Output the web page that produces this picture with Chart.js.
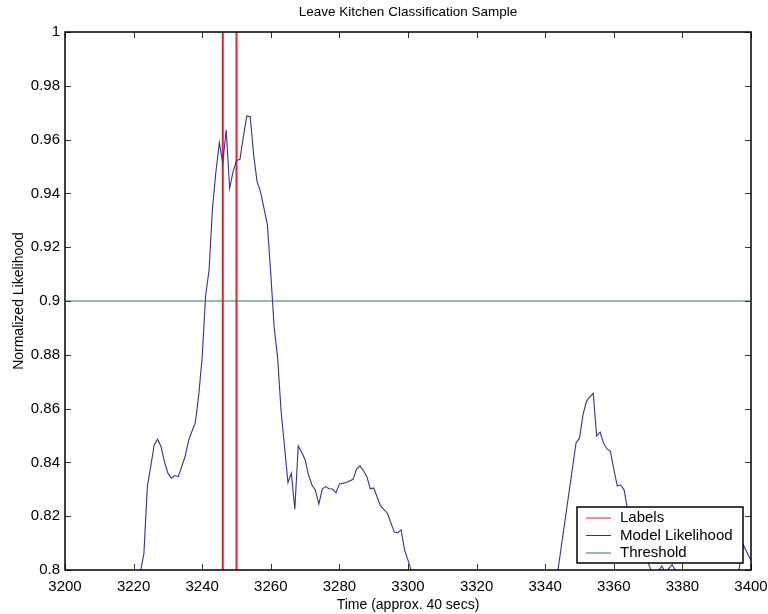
<!DOCTYPE html>
<html>
<head>
<meta charset="utf-8">
<title>Leave Kitchen Classification Sample</title>
<script src="https://cdn.jsdelivr.net/npm/chart.js@4.4.1/dist/chart.umd.min.js"></script>
<style>
    body { margin: 0; background: #fff; }
    #wrap { width: 768px; height: 614px; }
</style>
</head>
<body>
<div id="wrap"><canvas id="myChartLikelihood" width="768" height="614"></canvas></div>
<script>
// values
const timeValues = [
    3216, 3217, 3218, 3220, 3222, 3223, 3224, 3225, 3226, 3227,
    3228, 3229, 3230, 3231, 3232, 3233, 3234, 3235, 3236, 3237,
    3238, 3239, 3240, 3241, 3242, 3243, 3244, 3245, 3246, 3247,
    3248, 3249, 3250, 3251, 3252, 3253, 3254, 3255, 3256, 3257,
    3258, 3259, 3260, 3261, 3262, 3263, 3264, 3265, 3266, 3267,
    3268, 3269, 3270, 3271, 3272, 3273, 3274, 3275, 3276, 3277,
    3278, 3279, 3280, 3282, 3284, 3285, 3286, 3287, 3288, 3289,
    3290, 3292, 3294, 3296, 3297, 3298, 3299, 3300, 3301, 3302,
    3310, 3330, 3343, 3349, 3350, 3351, 3352, 3353, 3354, 3355,
    3356, 3357, 3358, 3359, 3360, 3361, 3362, 3363, 3364, 3365,
    3367, 3369, 3371, 3372, 3374, 3375, 3377, 3378, 3380, 3382,
    3388, 3392, 3396, 3397.8, 3399.7, 3400
];
const likelihoodValues = [
    0.7985, 0.7999, 0.7975, 0.7972, 0.7994, 0.806, 0.831, 0.8385, 0.8465, 0.8486,
    0.8458, 0.8403, 0.836, 0.8341, 0.8351, 0.8347, 0.8384, 0.8421, 0.848, 0.8515,
    0.8548, 0.8651, 0.8793, 0.902, 0.9115, 0.9345, 0.9481, 0.9589, 0.9512, 0.9636,
    0.9419, 0.9481, 0.9522, 0.9527, 0.961, 0.9688, 0.9685, 0.9543, 0.9444, 0.9406,
    0.9345, 0.9283, 0.910, 0.890, 0.8787, 0.859, 0.8458, 0.8325, 0.836, 0.8226,
    0.8461, 0.8438, 0.841, 0.8353, 0.8316, 0.8297, 0.8245, 0.8301, 0.831, 0.8302,
    0.8301, 0.8287, 0.832, 0.8325, 0.8337, 0.8375, 0.8387, 0.8369, 0.8347, 0.8302,
    0.8305, 0.8238, 0.8211, 0.8141, 0.8139, 0.8149, 0.8074, 0.8037, 0.7996, 0.795,
    0.785, 0.785, 0.7935, 0.8473, 0.849, 0.8576, 0.8626, 0.8644, 0.8657, 0.8498,
    0.8513, 0.8472, 0.845, 0.8442, 0.8375, 0.8313, 0.8316, 0.8298, 0.8225, 0.817,
    0.811, 0.806, 0.7995, 0.798, 0.8015, 0.799, 0.802, 0.7998, 0.799, 0.795,
    0.79, 0.794, 0.797, 0.8092, 0.8043, 0.8038
];
const labelTimes = [3246, 3250];
const thresholdValue = 0.9;

const xTickValues = [3200, 3220, 3240, 3260, 3280, 3300, 3320, 3340, 3360, 3380, 3400];
const yTickValues = [0.8, 0.82, 0.84, 0.86, 0.88, 0.9, 0.92, 0.94, 0.96, 0.98, 1];
const yTickLabels = ['0.8', '0.82', '0.84', '0.86', '0.88', '0.9', '0.92', '0.94', '0.96', '0.98', '1'];

const chartTitle = 'Leave Kitchen Classification Sample';
const xTitle = 'Time (approx. 40 secs)';
const yTitle = 'Normalized Likelihood';

var fontFamily = "'Liberation Sans', Arial, Helvetica, sans-serif";

var xMin = xTickValues[0], xMax = xTickValues[xTickValues.length - 1];
var yMin = yTickValues[0], yMax = yTickValues[yTickValues.length - 1];

var modelPoints = timeValues.map(function (t, i) {
    return { x: t, y: likelihoodValues[i] };
});
var labelPoints = [];
labelTimes.forEach(function (t) {
    labelPoints.push({ x: t, y: yMin }, { x: t, y: yMax }, { x: t, y: null });
});
var thresholdPoints = [{ x: xMin, y: thresholdValue }, { x: xMax, y: thresholdValue }];

// box round the axes, inward ticks, and the title over the plot
const axesBox = {
    id: 'axesBox',
    afterDatasetsDraw: function (chart) {
        var ctx = chart.ctx;
        var area = chart.chartArea;
        var sx = chart.scales.x, sy = chart.scales.y;
        ctx.save();
        ctx.strokeStyle = '#333';
        ctx.lineWidth = 1;
        ctx.beginPath();
        sx.ticks.forEach(function (t) {
            var px = Math.round(sx.getPixelForValue(t.value)) + 0.5;
            ctx.moveTo(px, area.bottom); ctx.lineTo(px, area.bottom - 6);
            ctx.moveTo(px, area.top); ctx.lineTo(px, area.top + 6);
        });
        sy.ticks.forEach(function (t) {
            var py = Math.round(sy.getPixelForValue(t.value)) + 0.5;
            ctx.moveTo(area.left, py); ctx.lineTo(area.left + 6, py);
            ctx.moveTo(area.right, py); ctx.lineTo(area.right - 6, py);
        });
        ctx.stroke();
        ctx.strokeStyle = '#000';
        ctx.lineWidth = 1.5;
        ctx.strokeRect(area.left, area.top, area.right - area.left, area.bottom - area.top);

        ctx.fillStyle = '#000';
        ctx.font = '13.5px ' + fontFamily;
        ctx.textAlign = 'center';
        ctx.textBaseline = 'middle';
        ctx.fillText(chartTitle, (area.left + area.right) / 2, 12);
        ctx.restore();
    }
};

// legend box in the lower right corner of the axes
const boxLegend = {
    id: 'boxLegend',
    afterDraw: function (chart) {
        var ctx = chart.ctx;
        var area = chart.chartArea;
        var w = 166, h = 56;
        var left = area.right - 8 - w;
        var top = area.bottom - 7 - h;
        ctx.save();
        ctx.fillStyle = '#fff';
        ctx.fillRect(left, top, w, h);
        ctx.strokeStyle = '#000';
        ctx.lineWidth = 1.5;
        ctx.strokeRect(left, top, w, h);
        ctx.font = '15px ' + fontFamily;
        ctx.textAlign = 'left';
        ctx.textBaseline = 'middle';
        chart.data.datasets.forEach(function (ds, i) {
            var y = top + 11 + i * 17.5;
            ctx.strokeStyle = ds.borderColor;
            ctx.lineWidth = 1;
            ctx.beginPath();
            ctx.moveTo(left + 9, y);
            ctx.lineTo(left + 34, y);
            ctx.stroke();
            ctx.fillStyle = '#000';
            ctx.fillText(ds.label, left + 43, y);
        });
        ctx.restore();
    }
};

const ctx = document.getElementById('myChartLikelihood');
const myChart = new Chart(ctx, {
    type: 'line',
    data: {
        datasets: [{
            label: 'Labels',
            data: labelPoints,
            borderColor: '#e8202a',
            borderWidth: 2,
            spanGaps: false,
            order: 3
        }, {
            label: 'Model Likelihood',
            data: modelPoints,
            borderColor: '#3d2d9a',
            borderWidth: 1.1,
            order: 2
        }, {
            label: 'Threshold',
            data: thresholdPoints,
            borderColor: '#2a7f48',
            borderWidth: 1,
            order: 1
        }]
    },
    options: {
        responsive: false,
        animation: false,
        events: [],
        layout: {
            padding: { top: 32, right: 17, left: 0, bottom: 0 }
        },
        elements: {
            point: { radius: 0 },
            line: { tension: 0, fill: false }
        },
        plugins: {
            legend: { display: false },
            tooltip: { enabled: false },
            title: { display: false }
        },
        scales: {
            x: {
                type: 'linear',
                min: xMin,
                max: xMax,
                grid: { display: false, drawTicks: false },
                border: { display: false },
                afterBuildTicks: function (scale) {
                    scale.ticks = xTickValues.map(function (v) { return { value: v }; });
                },
                afterFit: function (scale) {
                    scale.height = 44;
                    scale.paddingLeft = 0;
                    scale.paddingRight = 0;
                },
                ticks: {
                    autoSkip: false,
                    maxRotation: 0,
                    padding: 8,
                    color: '#000',
                    font: { family: fontFamily, size: 15 },
                    callback: function (v) { return String(v); }
                },
                title: {
                    display: true,
                    text: xTitle,
                    color: '#000',
                    font: { family: fontFamily, size: 14 },
                    padding: { top: 0, bottom: 0 }
                }
            },
            y: {
                type: 'linear',
                min: yMin,
                max: yMax,
                grid: { display: false, drawTicks: false },
                border: { display: false },
                afterBuildTicks: function (scale) {
                    scale.ticks = yTickValues.map(function (v) { return { value: v }; });
                },
                afterFit: function (scale) {
                    scale.width = 65;
                    scale.paddingTop = 0;
                    scale.paddingBottom = 0;
                },
                ticks: {
                    autoSkip: false,
                    padding: 5,
                    color: '#000',
                    font: { family: fontFamily, size: 15 },
                    callback: function (v, i) { return yTickLabels[i]; }
                },
                title: {
                    display: true,
                    text: yTitle,
                    color: '#000',
                    font: { family: fontFamily, size: 14 },
                    padding: { top: 11, bottom: 0 }
                }
            }
        }
    },
    plugins: [axesBox, boxLegend]
});
</script>
</body>
</html>
